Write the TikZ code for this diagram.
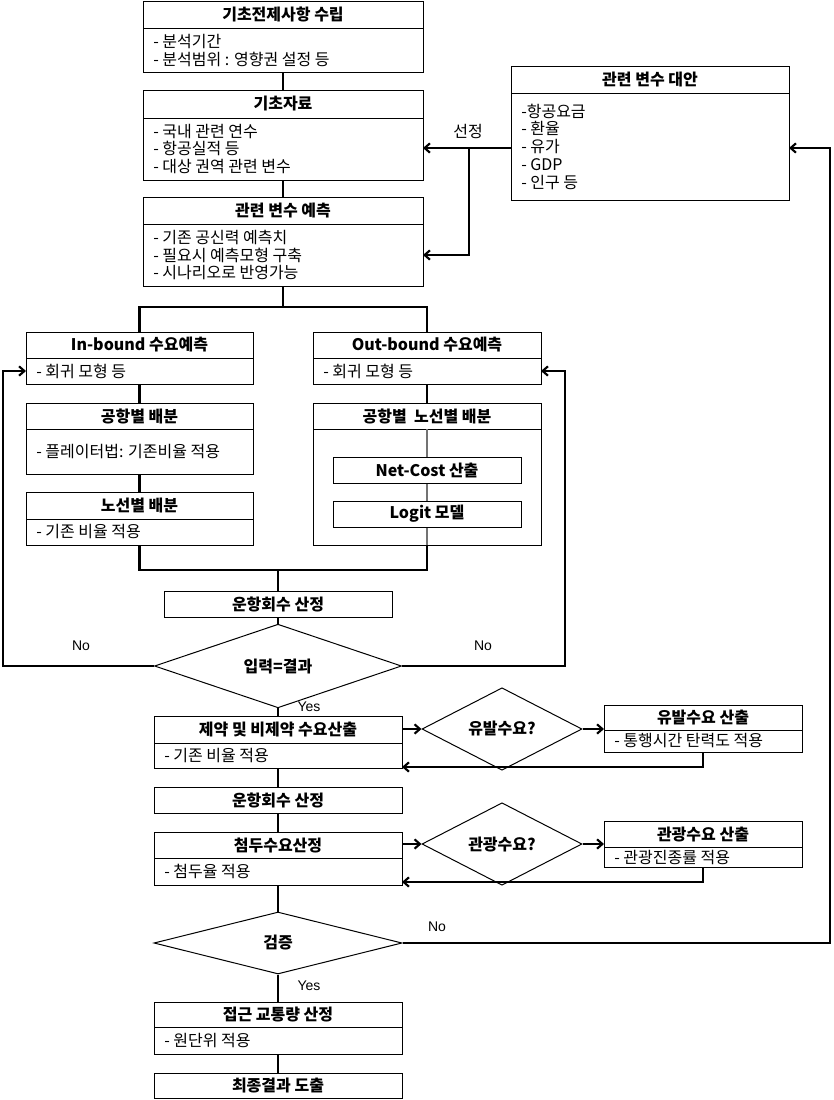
\documentclass[tikz,border=0pt]{standalone}
\usepackage{fontspec}
\setmainfont{Noto Sans CJK KR}
\newfontfamily\latfont{Liberation Sans}
\usetikzlibrary{arrows.meta,shapes.geometric,fit,calc}

\newcommand\twobox[8]{%
  \node[boxf, fit={(#2,#3)(#4,#5)}] (#1) {};
  \draw[divl] (#2,#6) -- (#4,#6);
  \node[ttl] (#1-t) at ({(#2+#4)/2},{(#3+#6)/2}) {#7};
  \node[bdy] (#1-b) at ({#2+10},{(#6+#5)/2}) {#8};
}
\newcommand\onebox[6]{%
  \node[boxf, fit={(#2,#3)(#4,#5)}] (#1) {};
  \node[ttl] (#1-t) at (#1.center) {#6};
}

\begin{document}
\begin{tikzpicture}[x=0.75pt,y=-0.75pt,
  boxf/.style={draw, line width=0.75pt, inner sep=0pt, outer sep=0pt, fill=white},
  divl/.style={line width=0.75pt},
  ttl/.style={font=\bfseries\fontsize{12}{13.3}\selectfont, inner sep=0pt},
  bdy/.style={font=\fontsize{12}{13.3}\selectfont, inner sep=0pt, anchor=west, align=left},
  dia/.style={diamond, draw, line width=0.75pt, inner sep=0pt, fill=white,
              font=\bfseries\fontsize{12}{13.3}\selectfont},
  conn/.style={line width=1.6pt},
  arr/.style={conn, -{Straight Barb[length=4pt,width=7pt]}},
  lbl/.style={font=\latfont\fontsize{10.5}{12}\selectfont, inner sep=0pt},
  klbl/.style={font=\fontsize{12}{13}\selectfont, inner sep=0pt}
]
\useasboundingbox (0,0) rectangle (833,1100);

% ---------- upper column ----------
\twobox{A}{143}{1}{423}{72}{28.5}{기초전제사항 수립}{- 분석기간\\- 분석범위 : 영향권 설정 등}
\twobox{B}{143}{90}{423}{180}{118}{기초자료}{- 국내 관련 연수\\- 항공실적 등\\- 대상 권역 관련 변수}
\twobox{C}{143}{197}{423}{286}{224}{관련 변수 예측}{- 기존 공신력 예측치\\- 필요시 예측모형 구축\\- 시나리오로 반영가능}
\twobox{R}{511}{66}{789}{200}{93}{관련 변수 대안}{-항공요금\\- 환율\\- 유가\\- GDP\\- 인구 등}

% ---------- in / out bound ----------
\twobox{IN}{26}{332}{253}{384}{358}{In-bound 수요예측}{- 회귀 모형 등}
\twobox{OUT}{313}{332}{541}{384}{358}{Out-bound 수요예측}{- 회귀 모형 등}
\twobox{AP}{26}{403}{253}{474}{429}{공항별 배분}{- 플레이터법: 기존비율 적용}
\twobox{RT}{26}{492}{253}{545}{519}{노선별 배분}{- 기존 비율 적용}

\node[boxf, fit={(313,403)(541,545)}] (APRT) {};
\draw[divl] (313,429) -- (541,429);
\node[ttl] (APRT-t) at (427,416) {공항별~~노선별 배분};
\coordinate (aprtdiv) at (427,429);
\draw[conn, black!55] (aprtdiv) -- (APRT.south);
\onebox{NC}{333}{457}{521}{483}{Net-Cost 산출}
\onebox{LG}{333}{501}{521}{527}{Logit 모델}

% ---------- lower column ----------
\onebox{F1}{164}{591}{392}{617}{운항회수 산정}
\node[dia, minimum width=185.25pt, minimum height=46.5pt] (D1) at (278,666) {입력=결과};
\twobox{CD}{154}{716}{402}{768}{743}{제약 및 비제약 수요산출}{- 기존 비율 적용}
\node[dia, minimum width=120pt, minimum height=47pt] (D2) at (502,729) {유발수요?};
\twobox{IND}{604}{705}{802}{752}{730}{유발수요 산출}{- 통행시간 탄력도 적용}
\onebox{F2}{154}{787}{402}{813}{운항회수 산정}
\twobox{PK}{154}{832}{402}{885}{858}{첨두수요산정}{- 첨두율 적용}
\node[dia, minimum width=120pt, minimum height=46.5pt] (D3) at (502,844) {관광수요?};
\twobox{TR}{604}{821}{802}{867}{847}{관광수요 산출}{- 관광진종률 적용}
\node[dia, minimum width=186pt, minimum height=46.5pt] (D4) at (278,943) {검증};
\twobox{AC}{154}{1002}{402}{1054}{1027}{접근 교통량 산정}{- 원단위 적용}
\onebox{FIN}{154}{1073}{402}{1098}{최종결과 도출}

% ---------- coordinates ----------
\coordinate (split) at (283,307);
\coordinate (merge) at (278,570);
\coordinate (sel) at (469,148);
\coordinate (lft) at (3,666);
\coordinate (rgt) at (565,666);
\coordinate (ret1) at (703,767);
\coordinate (ret2) at (703,882);
\coordinate (rr) at (830,943);

% ---------- connectors ----------
\draw[conn] (A) -- (B);
\draw[conn] (B) -- (C);
\draw[conn] (C.south) -- (split);
\draw[conn] (IN.north) -- (IN.north |- split) -- (OUT.north |- split) -- (OUT.north);
\draw[conn] (IN) -- (AP);
\draw[conn] (AP) -- (RT);
\draw[conn] (OUT) -- (APRT);
\draw[conn] (RT.south) -- (RT.south |- merge) -- (APRT.south |- merge) -- (APRT.south);
\draw[conn] (F1.north |- merge) -- (F1.north);
\draw[conn] (F1) -- (D1);
\draw[conn] (D1) -- (CD);
\draw[conn] (CD) -- (F2);
\draw[conn] (F2) -- (PK);
\draw[conn] (PK) -- (D4);
\draw[conn] (D4) -- (AC);
\draw[conn] (AC) -- (FIN);

% selection arrows
\draw[arr] (R.west |- sel) -- (B.east |- sel);
\draw[arr] (sel) |- (C.east |- C-b);
\node[klbl] at (468,131) {선정};

% No loops
\draw[arr] (D1.west) -- (lft) |- (IN.west |- IN-b);
\draw[arr] (D1.east) -- (rgt) |- (OUT.east |- OUT-b);
\node[lbl] at (81,646) {No};
\node[lbl] at (483,646) {No};
\node[lbl] at (309,707) {Yes};

% induced demand
\draw[arr] (CD.east |- D2) -- (D2.west);
\draw[arr] (D2.east) -- (IND.west |- D2);
\draw[arr] (IND.south -| ret1) -- (ret1) -- (CD.east |- ret1);

% tourism demand
\draw[arr] (PK.east |- D3) -- (D3.west);
\draw[arr] (D3.east) -- (TR.west |- D3);
\draw[arr] (TR.south -| ret2) -- (ret2) -- (PK.east |- ret2);

% verification
\draw[arr] (D4.east) -- (rr) |- (R.east |- sel);
\node[lbl] at (437,927) {No};
\node[lbl] at (309,986) {Yes};
\end{tikzpicture}
\end{document}
